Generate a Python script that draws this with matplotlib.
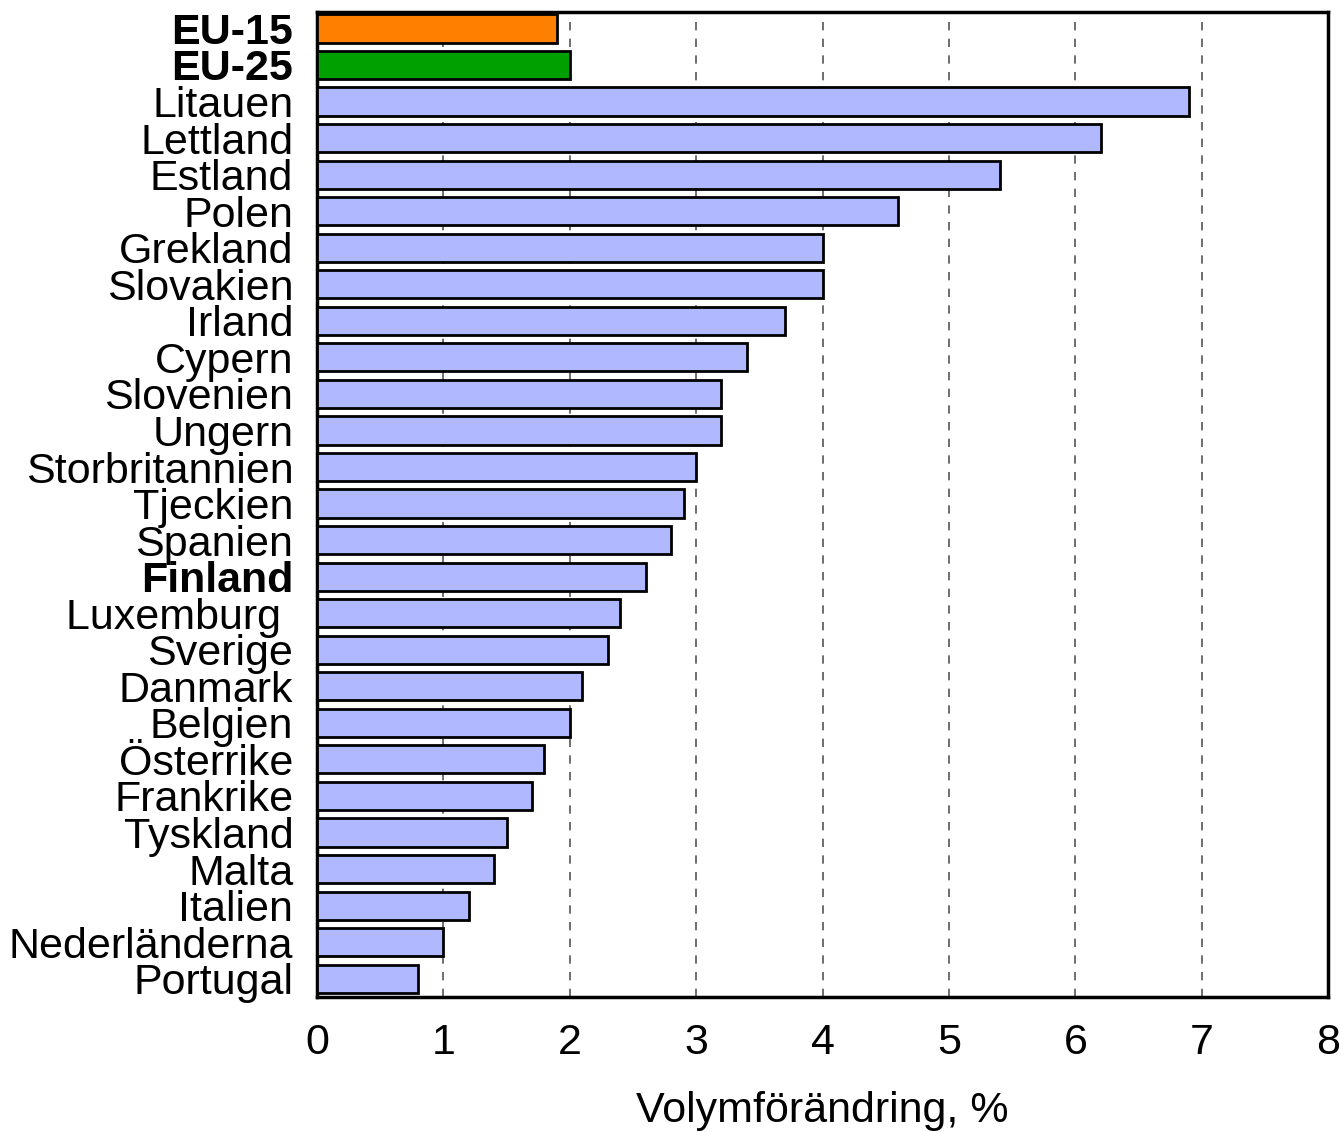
import matplotlib
matplotlib.use("Agg")
import matplotlib.pyplot as plt

plt.rcParams['font.family'] = ['Liberation Sans', 'DejaVu Sans']

# Volume change per country, %
countries = ["EU-15", "EU-25", "Litauen", "Lettland", "Estland", "Polen",
             "Grekland", "Slovakien", "Irland", "Cypern", "Slovenien",
             "Ungern", "Storbritannien", "Tjeckien", "Spanien", "Finland",
             "Luxemburg ", "Sverige", "Danmark", "Belgien", "Österrike",
             "Frankrike", "Tyskland", "Malta", "Italien", "Nederländerna",
             "Portugal"]
values = [1.9, 2.0, 6.9, 6.2, 5.4, 4.6, 4.0, 4.0, 3.7, 3.4, 3.2, 3.2,
          3.0, 2.9, 2.8, 2.6, 2.4, 2.3, 2.1, 2.0, 1.8, 1.7, 1.5, 1.4,
          1.2, 1.0, 0.8]
bold_labels = ["EU-15", "EU-25", "Finland"]
xticks = [0, 1, 2, 3, 4, 5, 6, 7, 8]
xlabel = "Volymförändring, %"

colors = []
for c in countries:
    if c == "EU-15":
        colors.append("#FF8000")
    elif c == "EU-25":
        colors.append("#00A000")
    else:
        colors.append("#B0B8FF")

fig = plt.figure(figsize=(13.43, 11.32), dpi=100)
ax = fig.add_axes([0.236, 0.1193, 0.753, 0.8701])

ypos = list(range(len(countries)))
ax.barh(ypos, values, height=0.77, color=colors, edgecolor="black",
        linewidth=2, zorder=3)

ax.set_xlim(0, 8)
ax.set_ylim(len(countries) - 0.5, -0.45)
ax.set_xticks(xticks)
ax.set_xticklabels([str(t) for t in xticks], fontsize=31)
ax.set_yticks(ypos)
ax.set_yticklabels(countries, fontsize=31)
for lbl in ax.get_yticklabels():
    if lbl.get_text() in bold_labels:
        lbl.set_fontweight("bold")
ax.tick_params(axis="both", length=0)
ax.tick_params(axis="x", pad=19)
ax.tick_params(axis="y", pad=17)

ax.xaxis.grid(True, linestyle=(0, (5, 5)), color="#555555", linewidth=1.2,
              zorder=0)
ax.set_axisbelow(True)
for s in ax.spines.values():
    s.set_linewidth(2.5)

ax.set_xlabel(xlabel, fontsize=31, labelpad=20)

fig.savefig("out.png", dpi=100)
